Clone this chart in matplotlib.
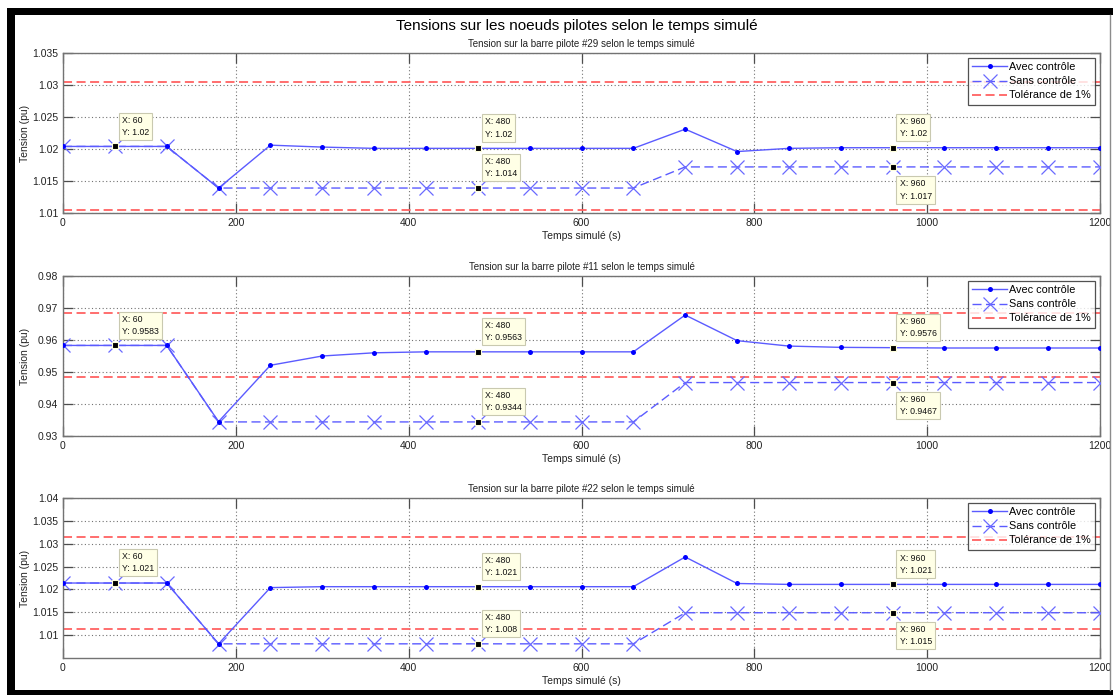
import matplotlib
matplotlib.use('Agg')
import matplotlib.pyplot as plt
from matplotlib.patches import Rectangle
from matplotlib.lines import Line2D
from matplotlib.ticker import FuncFormatter

plt.rcParams['font.family'] = ['Liberation Sans', 'DejaVu Sans']

# ---------------- data ----------------
temps = [0, 60, 120, 180, 240, 300, 360, 420, 480, 540, 600,
         660, 720, 780, 840, 900, 960, 1020, 1080, 1140, 1200]

titre_general = "Tensions sur les noeuds pilotes selon le temps simulé"
titres = ["Tension sur la barre pilote #29 selon le temps simulé",
          "Tension sur la barre pilote #11 selon le temps simulé",
          "Tension sur la barre pilote #22 selon le temps simulé"]

avec_29 = [1.0204, 1.0204, 1.0204, 1.0139, 1.0206, 1.0203, 1.0201, 1.0201, 1.0201, 1.0201, 1.0201,
           1.0201, 1.0231, 1.0196, 1.0201, 1.0202, 1.0202, 1.0202, 1.0202, 1.0202, 1.0202]
sans_29 = [1.0204, 1.0204, 1.0204, 1.0139, 1.0139, 1.0139, 1.0139, 1.0139, 1.0139, 1.0139, 1.0139,
           1.0139, 1.0172, 1.0172, 1.0172, 1.0172, 1.0172, 1.0172, 1.0172, 1.0172, 1.0172]
tol_29 = [1.0304, 1.0104]

avec_11 = [0.9583, 0.9583, 0.9583, 0.9345, 0.9521, 0.9550, 0.9560, 0.9563, 0.9563, 0.9563, 0.9563,
           0.9563, 0.9678, 0.9598, 0.9581, 0.9577, 0.9576, 0.9575, 0.9575, 0.9575, 0.9575]
sans_11 = [0.9583, 0.9583, 0.9583, 0.9344, 0.9344, 0.9344, 0.9344, 0.9344, 0.9344, 0.9344, 0.9344,
           0.9344, 0.9467, 0.9467, 0.9467, 0.9467, 0.9467, 0.9467, 0.9467, 0.9467, 0.9467]
tol_11 = [0.9684, 0.9484]

avec_22 = [1.0214, 1.0214, 1.0214, 1.0081, 1.0204, 1.0206, 1.0206, 1.0206, 1.0206, 1.0206, 1.0206,
           1.0206, 1.0271, 1.0213, 1.0211, 1.0211, 1.0211, 1.0211, 1.0211, 1.0211, 1.0211]
sans_22 = [1.0214, 1.0214, 1.0214, 1.0081, 1.0081, 1.0081, 1.0081, 1.0081, 1.0081, 1.0081, 1.0081,
           1.0081, 1.0149, 1.0149, 1.0149, 1.0149, 1.0149, 1.0149, 1.0149, 1.0149, 1.0149]
tol_22 = [1.0314, 1.0114]

ylims = [(1.01, 1.035), (0.93, 0.98), (1.005, 1.04)]
yticks = [[1.01, 1.015, 1.02, 1.025, 1.03, 1.035],
          [0.93, 0.94, 0.95, 0.96, 0.97, 0.98],
          [1.01, 1.015, 1.02, 1.025, 1.03, 1.035, 1.04]]
xticks = [0, 200, 400, 600, 800, 1000, 1200]

# data tips (x, series, side)
tip_x = [60, 480, 480, 960, 960]
tip_serie = ['avec', 'avec', 'sans', 'avec', 'sans']
tip_side = ['haut', 'haut', 'haut', 'haut', 'bas']

noms = ["Avec contrôle", "Sans contrôle", "Tolérance de 1%"]
xlabel = "Temps simulé (s)"
ylabel = "Tension (pu)"

series = [(avec_29, sans_29, tol_29), (avec_11, sans_11, tol_11), (avec_22, sans_22, tol_22)]

# ---------------- figure ----------------
W, H = 1113, 695
fig = plt.figure(figsize=(W / 100, H / 100), dpi=100)
fig.patch.set_facecolor('white')

def fx(px):
    return px / W

def fy(py):
    return 1 - py / H

# black frame
for (x0, y0, x1, y1) in [(7, 8, 15, 695), (7, 8, 1113, 15), (7, 690, 1113, 695)]:
    fig.patches.append(Rectangle((fx(x0), fy(y1)), fx(x1) - fx(x0), fy(y0) - fy(y1),
                                 transform=fig.transFigure, facecolor='black',
                                 edgecolor='none', zorder=0))
fig.lines.append(Line2D([fx(1110), fx(1110)], [fy(15), fy(690)], transform=fig.transFigure,
                        color='0.55', lw=1))

fig.text(fx(577), fy(26), titre_general, ha='center', va='center', fontsize=11, color='black')

axes_px = [(53, 213), (276, 436), (498, 658)]
left_px, right_px = 63, 1100

blue_line = '#5b5bff'
blue_mark = '#0000ff'
red = '#ff6262'

fmt = FuncFormatter(lambda v, p: ('%g' % round(v, 4)))

for i, (top, bot) in enumerate(axes_px):
    ax = fig.add_axes([fx(left_px), fy(bot), fx(right_px) - fx(left_px), fy(top) - fy(bot)])
    avec, sans, tol = series[i]
    ax.plot(temps, avec, '-', color=blue_line, lw=1.0, marker='o', ms=3.6,
            mfc=blue_mark, mec=blue_mark, mew=0, label=noms[0], zorder=4)
    ax.plot(temps, sans, color=blue_line, lw=1.0, linestyle=(0, (6.5, 3.2)), marker='x', ms=10,
            mec='#6a6aff', mew=0.9, label=noms[1], zorder=3)
    for k, t in enumerate(tol):
        ax.axhline(t, color=red, lw=1.3, linestyle=(0, (5, 2.5)), zorder=2,
                   label=noms[2] if k == 0 else None)

    ax.set_xlim(0, 1200)
    ax.set_ylim(*ylims[i])
    ax.set_xticks(xticks)
    ax.set_yticks(yticks[i])
    ax.yaxis.set_major_formatter(fmt)
    ax.grid(True, color='0.45', lw=0.8, linestyle=(0, (1, 2.2)), zorder=1)
    ax.tick_params(direction='in', length=7, width=0.9, color='0.3', labelsize=7.5,
                   top=True, right=True, pad=3.5, labelcolor='#222222')
    for s in ax.spines.values():
        s.set_color('0.45')
        s.set_linewidth(1.0)

    ax.set_title(titres[i], fontsize=7, pad=4, color='#222222')
    ax.set_xlabel(xlabel, fontsize=7.5, color='#222222')
    ax.xaxis.set_label_coords(0.5, -0.11)
    ax.set_ylabel(ylabel, fontsize=7.5, color='#222222')
    ax.yaxis.set_label_coords(-0.032, 0.5)

    leg = ax.legend(loc='upper right', fontsize=7.8, frameon=True, fancybox=False,
                    borderaxespad=0.45, handlelength=3.2, labelspacing=0.38,
                    handletextpad=0.2, borderpad=0.4)
    leg.get_frame().set_edgecolor('0.15')
    leg.get_frame().set_linewidth(0.9)
    leg.set_zorder(10)

    # data tips
    for tx, ts, side in zip(tip_x, tip_serie, tip_side):
        idx = temps.index(tx)
        ty = avec[idx] if ts == 'avec' else sans[idx]
        ax.plot([tx], [ty], marker='s', ms=5, mfc='black', mec='#ffffdd', mew=0.8,
                zorder=8, linestyle='none')
        txt = "X: %d\nY: %s" % (tx, '%.4g' % ty)
        if side == 'haut':
            off, va = (5, 7), 'bottom'
        else:
            off, va = (5, -9), 'top'
        ax.annotate(txt, (tx, ty), xytext=off, textcoords='offset points', ha='left', va=va,
                    fontsize=6.3, color='#111111', linespacing=1.45, zorder=9,
                    bbox=dict(boxstyle='square,pad=0.35', fc='#ffffe6', ec='#c9c9b0', lw=0.8))

fig.savefig('out.png', dpi=100, facecolor='white')
